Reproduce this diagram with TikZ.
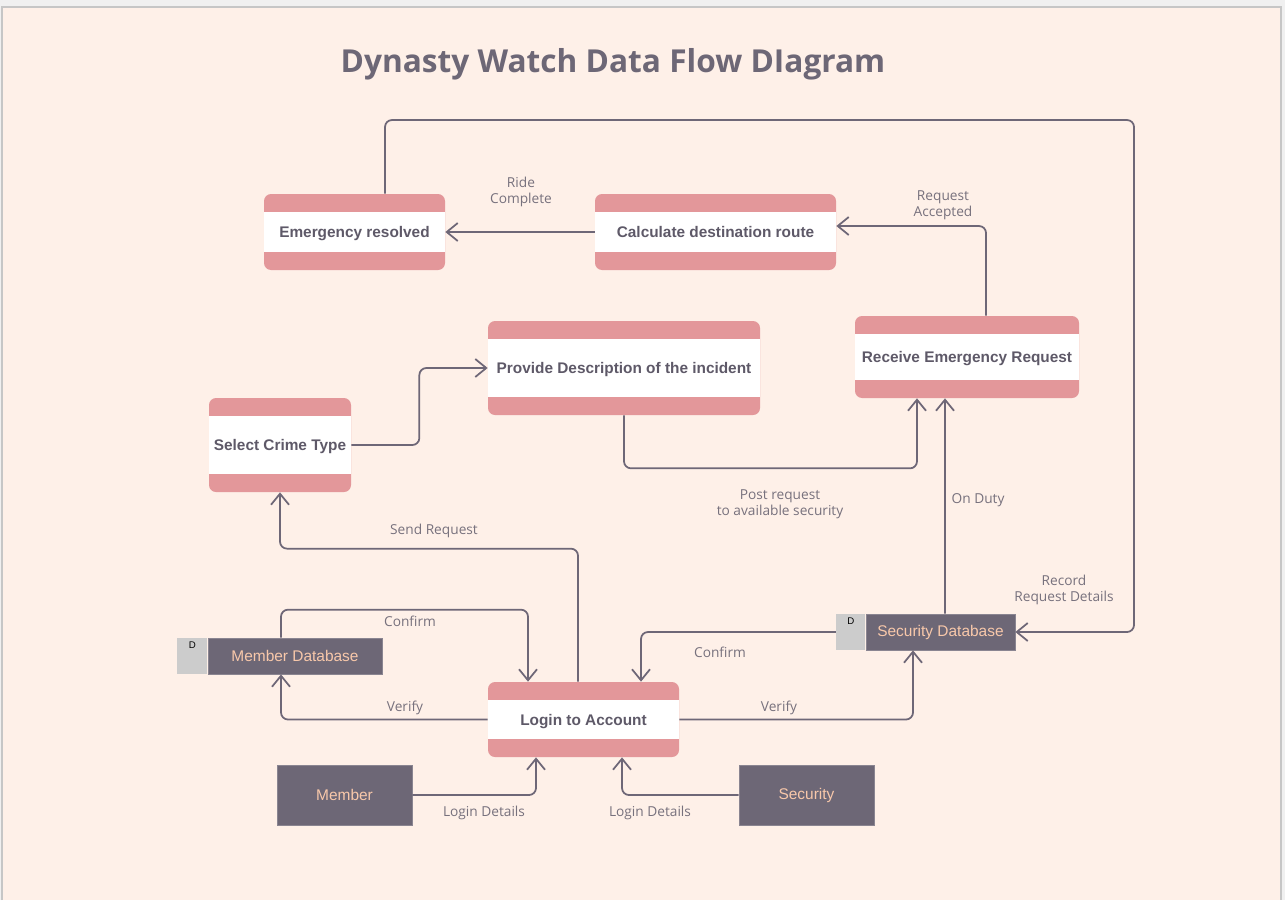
\documentclass[tikz,border=0pt]{standalone}
\usepackage{fontspec}
\setmainfont{Liberation Sans}
\newfontfamily\labelfont{Open Sans}
\usetikzlibrary{arrows.meta}

\definecolor{pagebg}{HTML}{FEF0E8}
\definecolor{bandpink}{HTML}{E3979A}
\definecolor{storedark}{HTML}{6D6776}
\definecolor{storetext}{HTML}{F8C8AA}
\definecolor{tagGray}{HTML}{CCCCCC}
\definecolor{flowline}{HTML}{6E6777}
\definecolor{nodetext}{HTML}{5E5968}
\definecolor{labelgray}{HTML}{77717D}

\begin{document}
\begin{tikzpicture}[
    x=0.2mm, y=-0.2mm,
    process/.style={
        rectangle,
        rounded corners=4pt,
        fill=bandpink,
        text=nodetext,
        inner sep=2pt,
        text depth=0pt,
        font=\fontsize{8.75}{10}\selectfont\bfseries,
        path picture={
            \fill[white, sharp corners] ([yshift=-3.6mm]path picture bounding box.north west)
                rectangle ([yshift=3.6mm]path picture bounding box.south east);
        }
    },
    store/.style={
        rectangle,
        fill=storedark,
        draw=storedark!80!white,
        line width=0.4pt,
        text=storetext,
        minimum height=7.2mm,
        font=\fontsize{8.8}{10}\selectfont
    },
    tagbox/.style={
        rectangle,
        fill=tagGray,
        minimum height=7.2mm,
        inner sep=0pt,
        label={[anchor=north, inner sep=0pt, yshift=-2.2pt, font=\fontsize{5.5}{6}\selectfont]north:D}
    },
    entity/.style={
        rectangle,
        fill=storedark,
        draw=storedark!80!white,
        line width=0.4pt,
        text=storetext,
        minimum width=27mm,
        minimum height=12mm,
        font=\fontsize{8.8}{10}\selectfont
    },
    flow/.style={
        draw=flowline,
        line width=1pt,
        rounded corners=4pt,
        -{Straight Barb[length=2.2mm,width=3.6mm,line width=1pt]}
    },
    flowlabel/.style={
        text=labelgray,
        align=center,
        inner sep=0pt,
        font=\labelfont\fontsize{7.8}{9.2}\selectfont
    }
]

% Page
\useasboundingbox (0,0) rectangle (1285,900);
\fill[gray!12] (0,0) rectangle (1285,900);
\fill[pagebg] (2,7) rectangle (1281,900);
\draw[gray!45, line width=0.6pt] (2,900) -- (2,7) -- (1281,7) -- (1281,900);

% Title
\node[text=storedark, font=\labelfont\bfseries\fontsize{18}{20}\selectfont] (title) at (613,64) {Dynasty Watch Data Flow DIagram};

% Processes
\node[process, minimum width=36.2mm, minimum height=15.2mm] (resolved) at (354.5,232) {Emergency resolved};
\node[process, minimum width=48.2mm, minimum height=15.2mm] (route) at (715.5,232) {Calculate destination route};
\node[process, minimum width=54.4mm, minimum height=18.8mm] (describe) at (624,368) {Provide Description of the incident};
\node[process, minimum width=44.8mm, minimum height=16.4mm] (receive) at (967,357) {Receive Emergency Request};
\node[process, minimum width=28.4mm, minimum height=18.8mm] (crime) at (280,445) {Select Crime Type};
\node[process, minimum width=38.2mm, minimum height=15mm] (login) at (583.5,719.5) {Login to Account};

% Data stores
\node[store, minimum width=34.8mm] (memdb) at (295,656) {Member Database};
\node[tagbox, minimum width=6mm, anchor=east] (memdbtag) at (memdb.west) {};
\node[store, minimum width=29.8mm] (secdb) at (940.5,632) {Security Database};
\node[tagbox, minimum width=5.8mm, anchor=east] (secdbtag) at (secdb.west) {};

% External entities
\node[entity] (member) at (344.5,795) {Member};
\node[entity] (security) at (806.5,795) {Security};

% Flows
\draw[flow] ([xshift=6.1mm]resolved.north) |- (1134,120) |- (secdb.east);
\draw[flow] (route.west) -- (resolved.east);
\draw[flow] ([xshift=3.8mm]receive.north) |- ([yshift=1.2mm]route.east);
\draw[flow] (crime.east) -- ++(68,0) |- (describe.west);
\draw[flow] (describe.south) -- ++(0,53) -| ([xshift=-10mm]receive.south);
\draw[flow] ([xshift=0.9mm]secdb.north) -- ([xshift=-4.4mm]receive.south);
\draw[flow] ([xshift=-1.1mm]login.north) -- ++(0,-133) -| (crime.south);
\draw[flow] ([xshift=-2.8mm]memdb.north) -- ++(0,-28) -| ([xshift=-11.1mm]login.north);
\draw[flow] (login.west) -| ([xshift=-2.8mm]memdb.south);
\draw[flow] (secdbtag.west) -| ([xshift=11.5mm]login.north);
\draw[flow] (login.east) -| ([xshift=-5.5mm]secdb.south);
\draw[flow] (member.east) -| ([xshift=-9.5mm]login.south);
\draw[flow] (security.west) -| ([xshift=7.7mm]login.south);

% Flow labels
\node[flowlabel] (lrecord) at (1064,590) {Record\\Request Details};
\node[flowlabel] (lride) at (521,192) {Ride\\Complete};
\node[flowlabel] (laccepted) at (943,205) {Request\\Accepted};
\node[flowlabel] (lpost) at (780,504) {Post request\\to available security};
\node[flowlabel] (lduty) at (978,500) {On Duty};
\node[flowlabel] (lsend) at (434,531) {Send Request};
\node[flowlabel] (lconfirmm) at (410,621) {Confirm};
\node[flowlabel] (lverifym) at (405,708) {Verify};
\node[flowlabel] (lconfirms) at (720,652) {Confirm};
\node[flowlabel] (lverifys) at (779,708) {Verify};
\node[flowlabel] (lloginm) at (484,813) {Login Details};
\node[flowlabel] (llogins) at (650,813) {Login Details};

\end{tikzpicture}
\end{document}
